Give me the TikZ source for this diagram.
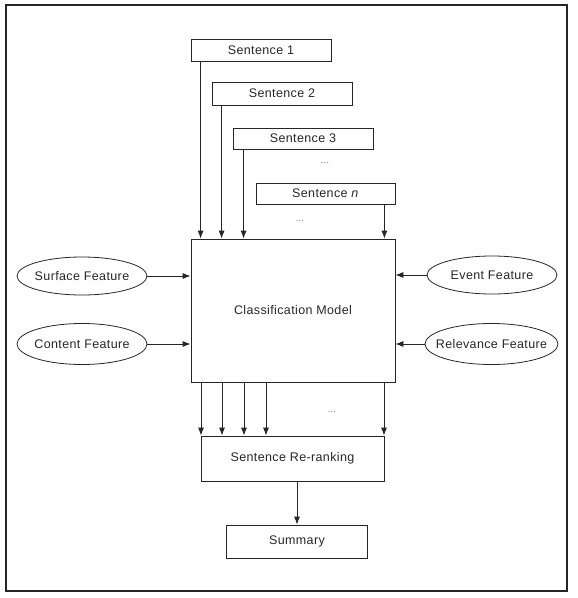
\documentclass[tikz,border=0pt]{standalone}
\usepackage{fontspec}
\setmainfont[LetterSpace=3]{Liberation Sans}
\usetikzlibrary{arrows.meta,shapes.geometric,calc}
\begin{document}
\begin{tikzpicture}[x=1pt,y=-1pt,
  every node/.style={font=\fontsize{12.5}{14}\selectfont, text=black!85},
  box/.style={draw=black!85, line width=0.8pt, rectangle, inner sep=0pt},
  oval/.style={draw=black!85, line width=0.8pt, ellipse, inner sep=0pt},
  arr/.style={draw=black!85, line width=0.8pt, -{Latex[length=8pt,width=6pt]}},
  dots/.style={text=black!60, font=\fontsize{9}{10}\selectfont}]
\useasboundingbox (0,0) rectangle (578,598);
\draw[black!85, line width=1.1pt] (6,5) rectangle (567,591);
% sentences
\node[box, minimum width=140pt, minimum height=22pt] (s1) at (261,50) {Sentence 1};
\node[box, minimum width=140pt, minimum height=23pt] (s2) at (282,93.5) {Sentence 2};
\node[box, minimum width=140pt, minimum height=21pt] (s3) at (303,138.5) {Sentence 3};
\node[box, minimum width=139pt, minimum height=21pt] (sn) at (325.5,193.5) {Sentence \textit{n}};
\node[dots] (d1) at (325,163) {...};
\node[dots] (d2) at (300,221) {...};
% classification
\node[box, minimum width=204pt, minimum height=143pt] (cm) at (293,310.5) {Classification Model};
% features
\node[oval, minimum width=130pt, minimum height=38pt, label=center:{Surface Feature}] (sf) at (82,276) {};
\node[oval, minimum width=130pt, minimum height=41pt, label=center:{Content Feature}] (cf) at (82,344) {};
\node[oval, minimum width=130pt, minimum height=38pt, label=center:{Event Feature}] (ef) at (492,275) {};
\node[oval, minimum width=133pt, minimum height=41pt, label=center:{Relevance Feature}] (rf) at (491.5,344) {};
% re-ranking and summary
\node[box, minimum width=183pt, minimum height=45pt] (rr) at (292.5,458.5) {Sentence Re-ranking};
\node[dots] (d3) at (332,412) {...};
\node[box, minimum width=141pt, minimum height=33pt] (sm) at (297,541.5) {Summary};
% arrow anchor points
\coordinate (a1) at ($(s1.south west)+(10,0)$);
\coordinate (a2) at ($(s2.south west)+(10,0)$);
\coordinate (a3) at ($(s3.south west)+(11,0)$);
\coordinate (an) at ($(sn.south east)+(-11,0)$);
% arrows sentences -> model
\draw[arr] (a1) -- (a1 |- cm.north);
\draw[arr] (a2) -- (a2 |- cm.north);
\draw[arr] (a3) -- (a3 |- cm.north);
\draw[arr] (an) -- (an |- cm.north);
% features -> model
\draw[arr] (sf.east) -- (sf.east -| cm.west);
\draw[arr] (cf.east) -- (cf.east -| cm.west);
\draw[arr] (ef.west) -- (ef.west -| cm.east);
\draw[arr] (rf.west) -- (rf.west -| cm.east);
% model -> re-ranking
\foreach \xx in {201,222,244,266,384}
  \draw[arr] (cm.south -| \xx,0) -- (rr.north -| \xx,0);
% re-ranking -> summary
\draw[arr] (sm.north |- rr.south) -- (sm.north);
\end{tikzpicture}
\end{document}
